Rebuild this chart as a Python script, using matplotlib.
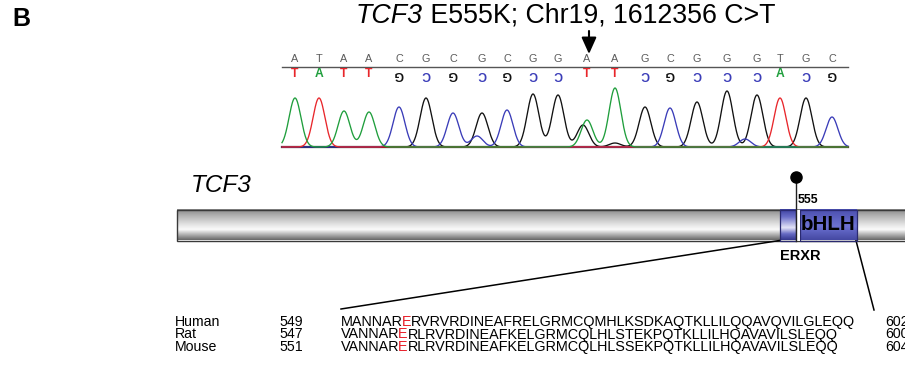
import numpy as np
import matplotlib
matplotlib.use('Agg')
import matplotlib.pyplot as plt
from matplotlib.colors import LinearSegmentedColormap
from matplotlib.patches import Rectangle

# ---------------- data ----------------
base_calls = list("ATAACGCGCGGAAGCGGGTGC")
# scan position of each base call (trace units)
peak_scan = [13, 37, 62, 87, 117, 144, 171, 200, 225, 251, 276, 305,
             333, 363, 388, 415, 445, 475, 498, 524, 550]
peak_height = [49, 49, 36, 35, 40, 49, 34, 34, 37, 53, 52, 27,
               59, 40, 39, 45, 56, 52, 49, 49, 30]
# minor (secondary) peaks: base, scan, height
minor_base = ['C', 'G', 'G', 'C']
minor_scan = [195, 301, 333, 463]
minor_height = [11, 22, 4, 8]

complement = {'A': 'T', 'T': 'A', 'C': 'G', 'G': 'C'}
trace_color = {'A': '#1f9e3c', 'T': '#e8262b', 'C': '#3a3cb8', 'G': '#111111'}

title_gene = "TCF3"
title_rest = " E555K; Chr19, 1612356 C>T"

species = ['Human', 'Rat', 'Mouse']
seq_start = [549, 547, 551]
seq_end = [602, 600, 604]
sequences = [
    "MANNARERVRVRDINEAFRELGRMCQMHLKSDKAQTKLLILQQAVQVILGLEQQ",
    "VANNARERLRVRDINEAFKELGRMCQLHLSTEKPQTKLLILHQAVAVILSLEQQ",
    "VANNARERLRVRDINEAFKELGRMCQLHLSSEKPQTKLLILHQAVAVILSLEQQ",
]
highlight_pos = 6  # E555 (human numbering)

# ---------------- figure ----------------
plt.rcParams['font.family'] = ['Liberation Sans', 'DejaVu Sans']
W, H = 905, 369
FS_SEQ = 10.37


def new_canvas():
    f = plt.figure(figsize=(W / 100, H / 100), dpi=100)
    a = f.add_axes([0, 0, 1, 1])
    a.set_xlim(0, W)
    a.set_ylim(H, 0)
    a.axis('off')
    return f, a


def ink_profile(s, x, y):
    """column darkness profile of a text rendered exactly as in the final figure"""
    f, a = new_canvas()
    a.text(x, y, s, fontsize=FS_SEQ, ha='left', va='center', color='black')
    f.canvas.draw()
    img = np.asarray(f.canvas.buffer_rgba())[:, :, :3].astype(float)
    plt.close(f)
    return (255.0 - img.min(axis=2)).sum(axis=0)


def centroid(p):
    p = np.clip(p, 0, None)
    return (p * np.arange(len(p))).sum() / p.sum()


def char_shift(seq, i, x, y):
    """integer x offset that puts seq[i] (drawn alone) where it sits inside seq"""
    inside = ink_profile(seq[:i + 1], x, y) - ink_profile(seq[:i], x, y)
    alone = ink_profile(seq[i], x, y)
    return int(round(centroid(inside) - centroid(alone)))


fig, ax = new_canvas()

ax.text(12, 19, 'B', fontsize=18, fontweight='bold', ha='left', va='center')

# title
t = ax.text(356, 16, title_gene, fontsize=19.3, style='italic', ha='left', va='center')
ax.annotate(title_rest, xy=(1, 0.5), xycoords=t, fontsize=19.3, ha='left', va='center')

# arrow
ax.annotate('', xy=(589, 54), xytext=(589, 31),
            arrowprops=dict(arrowstyle='-|>,head_length=1.0,head_width=0.45',
                            lw=1.5, color='black', shrinkA=0, shrinkB=0))

# ---------------- chromatogram ----------------
cx0, cx1, base_y, top_y = 282, 848, 147, 52
cax = fig.add_axes([cx0 / W, 1 - (base_y + 1) / H, (cx1 - cx0) / W, (base_y + 1 - top_y) / H])
cax.set_xlim(0, cx1 - cx0)
cax.set_ylim(-1, base_y - top_y)
cax.axis('off')
cax.patch.set_alpha(0)

xs = np.linspace(0, cx1 - cx0, 3000)
sigma = 5.9
traces = {b: np.zeros_like(xs) for b in 'ACGT'}
for b, p, h in zip(base_calls, peak_scan, peak_height):
    traces[b] += h * np.exp(-(xs - p) ** 2 / (2 * sigma ** 2))
for b, p, h in zip(minor_base, minor_scan, minor_height):
    traces[b] += h * np.exp(-(xs - p) ** 2 / (2 * sigma ** 2))

cax.plot([0, cx1 - cx0], [0, 0], color='#222222', lw=1.6, clip_on=False)
for b in ['G', 'C', 'T', 'A']:
    cax.plot(xs, traces[b], color=trace_color[b], lw=0.95, clip_on=False)

cax.plot([0, cx1 - cx0], [79.5, 79.5], color='#555555', lw=1.0, clip_on=False)
for b, p in zip(base_calls, peak_scan):
    cax.text(p, 87.5, b, ha='center', va='center', fontsize=7.8, color='#5a5a5a')
    c = complement[b]
    rot = 180 if c in 'CG' else 0
    cax.text(p, 73.0, c, ha='center', va='center', fontsize=8.7, fontweight='bold',
             color=trace_color[c], rotation=rot)

# ---------------- protein diagram ----------------
def grad_rect(x0, x1, y0, y1, stops, z=1):
    cmap = LinearSegmentedColormap.from_list('g', stops)
    g = np.linspace(0, 1, 256).reshape(-1, 1)
    ax.imshow(g, cmap=cmap, extent=(x0, x1, y1, y0), aspect='auto',
              origin='upper', interpolation='bilinear', zorder=z)

by0, by1 = 209.5, 240.5
grad_rect(177, 912, by0, by1, [(0, '#888888'), (0.2, '#b0b0b0'), (0.5, '#e4e4e4'),
                                (0.66, '#fbfbfb'), (0.84, '#aaaaaa'), (1, '#666666')])
ax.add_patch(Rectangle((177, by0), 740, by1 - by0, fill=False, ec='#3a3a3a', lw=1.0, zorder=2))

grad_rect(779.5, 795.5, by0, by1, [(0, '#3b3f9e'), (0.25, '#6a6ec8'), (0.6, '#e4e4f7'),
                                    (0.8, '#676bc4'), (1, '#33368c')], z=3)
ax.add_patch(Rectangle((779.5, by0), 16, by1 - by0, fill=False, ec='#2a2a70', lw=0.9, zorder=4))
grad_rect(799.5, 856.5, by0, by1, [(0, '#4a4eae'), (0.55, '#6d72d2'), (1, '#4448a2')], z=3)
ax.add_patch(Rectangle((799.5, by0), 57, by1 - by0, fill=False, ec='#2a2a70', lw=0.9, zorder=4))
ax.add_patch(Rectangle((795.5, by0), 4, by1 - by0, fc='white', ec='none', zorder=4))

ax.plot([796, 796], [176.5, by1], color='#222222', lw=1.0, zorder=5)
ax.plot([796], [176.5], 'o', color='black', ms=8, zorder=6)
ax.text(797.5, 200, '555', fontsize=8.8, fontweight='bold', ha='left', va='center')
ax.text(828, 225, 'bHLH', fontsize=14.8, fontweight='bold', ha='center', va='center', zorder=6)
ax.text(800, 255.5, 'ERXR', fontsize=10.5, fontweight='bold', ha='center', va='center')

ax.text(191, 186, 'TCF3', fontsize=17.5, style='italic', ha='left', va='center')

ax.plot([779.5, 341], [by1, 309], color='black', lw=1.1)
ax.plot([856, 874], [by1, 310], color='black', lw=1.1)

# ---------------- alignment ----------------
row_y = [322, 334.5, 347]
x_seq = 341
for y, name, s0, s1, seq in zip(row_y, species, seq_start, seq_end, sequences):
    ax.text(175, y, name, fontsize=10.2, ha='left', va='center')
    ax.text(279, y, str(s0), fontsize=10.2, ha='left', va='center')
    k = highlight_pos
    dx_e = char_shift(seq, k, x_seq, y)
    dx_r = char_shift(seq, k + 1, x_seq, y)
    ax.text(x_seq, y, seq[:k], fontsize=FS_SEQ, ha='left', va='center', color='black')
    ax.text(x_seq + dx_e, y, seq[k], fontsize=FS_SEQ, ha='left', va='center', color='#e8202a')
    ax.text(x_seq + dx_r, y, seq[k + 1:], fontsize=FS_SEQ, ha='left', va='center', color='black')
    ax.text(885, y, str(s1), fontsize=10.2, ha='left', va='center')

ax.set_xlim(0, W)
ax.set_ylim(H, 0)
fig.savefig('out.png', dpi=100)
